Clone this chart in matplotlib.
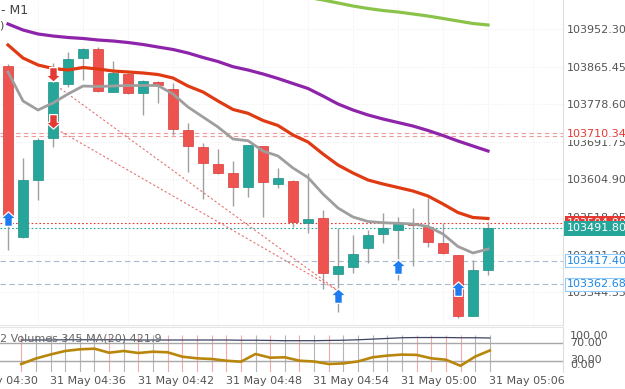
import numpy as np
import matplotlib
matplotlib.use("Agg")
import matplotlib.pyplot as plt
from matplotlib.path import Path
from matplotlib.transforms import ScaledTranslation

# M1 candles, 04:31 .. 05:03
opens = [103867.5, 103471.9, 103603.5, 103700.5, 103825.3, 103885.3, 103906.1, 103806.8,
         103848.4, 103804.5, 103829.9, 103813.7, 103719.0, 103679.7, 103640.5, 103619.7,
         103587.3, 103682.0, 103594.3, 103601.2, 103504.2, 103515.7, 103386.4, 103402.6,
         103446.4, 103478.8, 103488.0, 103504.2, 103495.0, 103458.0, 103430.3, 103289.4,
         103395.6]
highs = [103871.5, 103654.3, 103700.5, 103873.8, 103899.2, 103908.4, 103910.7, 103878.4,
         103850.7, 103834.5, 103832.2, 103827.6, 103735.2, 103689.0, 103675.1, 103647.4,
         103684.4, 103682.0, 103631.2, 103603.5, 103619.7, 103534.2, 103492.6, 103476.5,
         103488.0, 103527.3, 103518.1, 103538.8, 103561.9, 103504.2, 103430.3, 103418.7,
         103506.5]
lows = [103441.8, 103469.5, 103557.3, 103679.7, 103818.3, 103834.5, 103806.8, 103806.8,
        103802.2, 103753.7, 103781.4, 103707.5, 103622.0, 103559.6, 103617.4, 103543.5,
        103564.2, 103518.1, 103585.0, 103495.0, 103481.1, 103351.7, 103298.6, 103388.7,
        103411.8, 103458.0, 103372.5, 103404.9, 103448.7, 103432.6, 103284.8, 103289.4,
        103384.1]
closes = [103522.7, 103603.5, 103695.9, 103829.9, 103883.0, 103906.1, 103809.1, 103850.7,
          103804.5, 103832.2, 103823.0, 103721.3, 103682.0, 103642.8, 103619.7, 103587.3,
          103684.4, 103598.9, 103608.1, 103506.5, 103513.4, 103388.7, 103404.9, 103432.6,
          103476.5, 103492.6, 103501.9, 103499.6, 103460.3, 103434.9, 103289.4, 103395.6,
          103491.8]

# moving averages
ma_fast = [103853.0, 103786.0, 103765.2, 103781.4, 103802.2, 103820.6, 103819.5, 103820.6,
           103821.8, 103821.8, 103821.8, 103802.2, 103772.1, 103749.0, 103725.9, 103698.2,
           103694.3, 103670.5, 103659.0, 103631.2, 103609.3, 103571.2, 103538.8, 103518.1,
           103507.7, 103504.9, 103503.5, 103501.9, 103496.1, 103478.8, 103449.9, 103434.9,
           103444.1]
ma_mid = [103915.4, 103885.3, 103869.2, 103861.1, 103857.6, 103863.4, 103859.9, 103855.3,
          103853.0, 103850.7, 103847.2, 103839.1, 103820.6, 103806.8, 103786.0, 103766.4,
          103757.6, 103741.0, 103729.4, 103707.5, 103691.3, 103663.6, 103638.2, 103619.7,
          103603.5, 103594.3, 103586.2, 103578.1, 103566.5, 103548.1, 103528.4, 103516.9,
          103514.6]
ma_slow = [103963.9, 103950.0, 103940.8, 103936.1, 103932.7, 103930.4, 103926.9, 103924.6,
           103921.1, 103916.5, 103910.7, 103905.0, 103896.9, 103886.5, 103877.2, 103865.2,
           103857.6, 103848.4, 103838.0, 103826.4, 103814.9, 103797.5, 103779.1, 103765.2,
           103753.7, 103744.4, 103736.3, 103728.2, 103717.9, 103706.3, 103693.6, 103682.0,
           103670.5]
ma_long_start = 19
ma_long = [104030.8, 104025.1, 104019.3, 104012.4, 104005.4, 103999.7, 103995.0, 103991.6,
           103987.0, 103982.3, 103976.6, 103970.8, 103965.0, 103961.6]

# lower pane
osc = [22.7, 34.9, 43.8, 51.6, 55.3, 56.7, 47.8, 51.6, 47.1, 50.0, 48.7, 38.9, 35.3, 33.8,
       30.0, 27.8, 44.9, 36.7, 37.6, 30.0, 28.2, 22.7, 24.0, 28.4, 37.6, 41.3, 43.6, 42.9,
       35.3, 32.2, 18.7, 39.1, 52.7]
vol_ma = [76, 76, 76, 76.5, 76.5, 76.5, 76.5, 76.5, 76, 76, 76, 76, 76, 76, 76, 75.5, 75.5,
          75, 74.5, 74.5, 74.5, 75, 75.5, 76.5, 78, 79.5, 81, 81.5, 81.5, 81.5, 81, 81, 80.5]

# signals
up_idx = [0, 22, 26, 30]
up_price = [103513.4, 103335.6, 103402.6, 103351.7]
down_idx = [3, 3]
down_price = [103848.4, 103739.8]
trend_start = (3, [103827.4, 103725.7])
trend_end = (22, 103347.8)

# levels
red_levels = [103712.8, 103704.5]
bid_level = 103504.80
last_price = 103491.80
blue_levels = [103417.40, 103362.68]

price_ticks = [103952.30, 103865.45, 103778.60, 103691.75, 103604.90, 103518.05,
               103431.20, 103344.35]
time_labels = ["31 May 04:30", "31 May 04:36", "31 May 04:42", "31 May 04:48",
               "31 May 04:54", "31 May 05:00", "31 May 05:06"]
first_minute = 31
label_minutes = [30, 36, 42, 48, 54, 60, 66]

RED = "#EF5350"
TEAL = "#26A69A"
GRAY_TXT = "#555555"

plt.rcParams["font.family"] = ["DejaVu Sans"]
fig = plt.figure(figsize=(6.25, 3.89), dpi=100)
ax = fig.add_axes([0, 1 - 325 / 389, 563 / 625, 325 / 389])
ax2 = fig.add_axes([0, 1 - 372 / 389, 563 / 625, 45 / 389])

x = np.arange(len(opens))
xlim = (-8 / 15, (563 - 8) / 15)

# ---- main pane
ax.set_xlim(*xlim)
ax.set_ylim(104019.3 - 2.3098 * 325, 104019.3)
for v in np.arange(2, 38, 3):
    ax.axvline(v, color="#EEEEEE", lw=0.7, ls=":", zorder=0)
for p in price_ticks:
    ax.axhline(p, color="#EEEEEE", lw=0.7, ls=":", zorder=0)

o = np.array(opens); c = np.array(closes)
up = c >= o
ax.vlines(x, lows, highs, color="#A0A0A0", lw=1.0, zorder=2)
ax.bar(x[up], (c - o)[up], bottom=o[up], width=0.65, color=TEAL,
       edgecolor="#1F8E83", lw=0.5, zorder=3)
ax.bar(x[~up], (c - o)[~up], bottom=o[~up], width=0.65, color=RED,
       edgecolor="#D63C39", lw=0.5, zorder=3)

ax.plot(x[ma_long_start:], ma_long, color="#8BC34A", lw=2.3, zorder=4)
ax.plot(x, ma_slow, color="#8E24AA", lw=2.3, zorder=4)
ax.plot(x, ma_mid, color="#E03A12", lw=2.3, zorder=4)
ax.plot(x, ma_fast, color="#9E9E9E", lw=2.0, zorder=4)

for y0 in trend_start[1]:
    ax.plot([trend_start[0], trend_end[0]], [y0, trend_end[1]], color="#E57373",
            lw=0.8, ls=(0, (2, 2)), zorder=2)

for lv in red_levels:
    ax.axhline(lv, color="#EF9A9A", lw=0.8, ls=(0, (4, 3)), zorder=1)
ax.axhline(bid_level, color="#E53935", lw=0.8, ls=(0, (1.5, 2)), zorder=1)
ax.axhline(last_price, color=TEAL, lw=0.8, ls=(0, (1.5, 2)), zorder=1)
for lv in blue_levels:
    ax.axhline(lv, color="#A9B8CC", lw=0.8, ls=(0, (5, 3)), zorder=1)

arrow_up = Path([(0, 1), (1, 0.1), (0.5, 0.1), (0.5, -0.9), (-0.5, -0.9),
                 (-0.5, 0.1), (-1, 0.1), (0, 1)], closed=True)
arrow_dn = Path([(vx, -vy) for vx, vy in arrow_up.vertices], closed=True)
ax.plot(up_idx, up_price, ls="none", marker=arrow_up, ms=11, color="#1E7BF0",
        mec="white", mew=0.9, zorder=6)
ax.plot(down_idx, down_price, ls="none", marker=arrow_dn, ms=11, color="#E53935",
        mec="white", mew=0.9, zorder=6)

ax.yaxis.tick_right()
ax.set_yticks(price_ticks)
ax.set_yticklabels([f"{p:.2f}" for p in price_ticks])
ax.tick_params(axis="y", length=0, pad=3, labelsize=8, labelcolor=GRAY_TXT)
ax.set_xticks([])
for s in ["left", "top"]:
    ax.spines[s].set_visible(False)
ax.spines["right"].set_color("#DDDDDD")
ax.spines["bottom"].set_color("#E6E6E6")

ytr = ax.get_yaxis_transform() + ScaledTranslation(4 / 100, 0, fig.dpi_scale_trans)
ax.text(1, 103710.34, "103710.34", transform=ytr, fontsize=8, color="#E53935",
        va="center", ha="left", zorder=7, clip_on=False,
        bbox=dict(boxstyle="square,pad=0.15", fc="white", ec="none"))
ax.text(1, bid_level, f"{bid_level:.2f}", transform=ytr, fontsize=8, color="white",
        va="center", ha="left", zorder=7, clip_on=False,
        bbox=dict(boxstyle="square,pad=0.2", fc="#E53935", ec="none"))
ax.text(1, last_price, f"{last_price:.2f}", transform=ytr, fontsize=8, color="white",
        va="center", ha="left", zorder=8, clip_on=False,
        bbox=dict(boxstyle="square,pad=0.25", fc=TEAL, ec="none"))
for lv in blue_levels:
    ax.text(1, lv, f"{lv:.2f}", transform=ytr, fontsize=8, color="#1E88E5",
            va="center", ha="left", zorder=7, clip_on=False,
            bbox=dict(boxstyle="square,pad=0.15", fc="white", ec="#90CAF9", lw=0.8))

fig.text(1 / 625, 1 - 11 / 389, "- M1", fontsize=9, color="#444444", va="center")
fig.text(-1 / 625, 1 - 25 / 389, ")", fontsize=8, color="#444444", va="center")

# ---- lower pane
ax2.set_xlim(*xlim)
ax2.set_ylim(4.9, 104.9)
vcol = ["#F4A9A9" if not u else "#B5B5B5" for u in up]
ax2.vlines(x, 4.9, 87, colors=vcol, lw=0.8, zorder=0)
ax2.axhline(70, color="#A8A8A8", lw=1.0, zorder=1)
ax2.axhline(30, color="#A8A8A8", lw=1.0, zorder=1)
ax2.plot(x, vol_ma, color="#3B4463", lw=0.9, zorder=2)
ax2.plot(x, osc, color="#B8860B", lw=1.9, zorder=3)
ax2.text(0, 80.4, "2 Volumes 345 MA(20) 421.9", transform=ax2.get_yaxis_transform(),
         fontsize=8, color="#666666", va="center", ha="left")
ytr2 = ax2.get_yaxis_transform() + ScaledTranslation(7 / 100, 0, fig.dpi_scale_trans)
for lab, yv in [("100.00", 84.9), ("70.00", 69.3), ("30.00", 31.6), ("0.00", 20.4)]:
    ax2.text(1, yv, lab, transform=ytr2, fontsize=8, color=GRAY_TXT,
             va="center", ha="left", clip_on=False)
ax2.set_yticks([])
ax2.set_xticks([m - first_minute - 0.45 for m in label_minutes])
ax2.set_xticklabels(time_labels)
ax2.tick_params(axis="x", length=0, pad=3, labelsize=8, labelcolor=GRAY_TXT)
for s in ["left", "bottom"]:
    ax2.spines[s].set_visible(False)
ax2.spines["right"].set_color("#DDDDDD")
ax2.spines["top"].set_color("#E6E6E6")

fig.savefig("out.png", dpi=100, facecolor="white")
